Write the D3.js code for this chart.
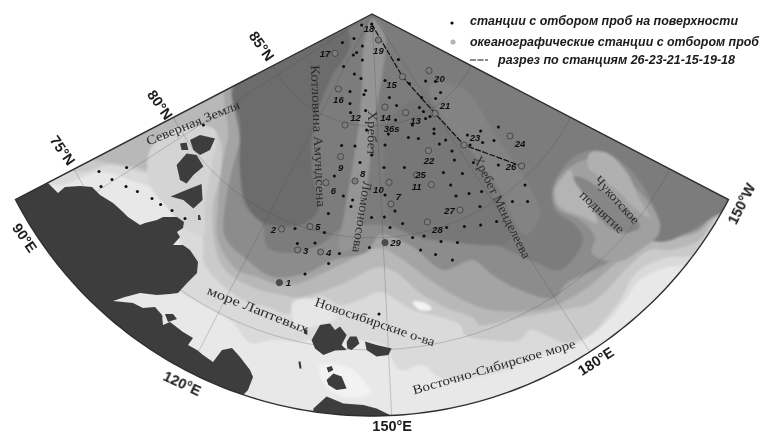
<!DOCTYPE html>
<html>
<head>
<meta charset="utf-8">
<script src="https://cdn.jsdelivr.net/npm/d3@7"></script>
<style>
  html, body { margin: 0; background: #fff; }
  svg { display: block; }
</style>
</head>
<body>
<svg id="map" width="761" height="434"></svg>
<script>
// all map coordinates are km on the polar plane, origin at the pole, y towards the shelf

// stations with surface samples
var surfaceX = [-52,-2,-148,-90,-48,-77,-93,-48,-142,132,-88,-55,65,187,268,318,343,318,248,-110,-32,-40,-110,87,123,237,257,290,268,202,-107,-32,118,-27,82,182,232,310,310,368,337,632,543,477,490,553,610,-152,-85,65,
  -2,400,412,-60,60,162,507,632,357,452,-188,393,485,548,765,-143,65,-97,-105,115,420,540,702,778,-218,-2,62,623,153,90,373,462,543,-385,-238,203,260,345,427,-373,-285,-13,243,318,402,-163,-217,-335,
  -1365,-1227,-1300,-1355,-1230,-1173,-1100,-1057,-1000,-935,-843,35];
var surfaceY = [55,50,143,122,160,192,205,230,263,227,300,323,333,347,335,338,392,422,418,387,383,402,447,417,457,467,488,513,522,555,492,483,530,580,600,617,623,575,597,630,650,565,585,605,655,643,633,657,660,655,
  705,685,730,743,767,768,743,755,792,797,810,855,897,888,855,910,905,930,963,985,910,963,938,938,998,1017,1015,1038,1047,1068,1067,1063,1055,1072,1093,1118,1110,1138,1143,1148,1145,1167,1180,1202,1230,1198,1247,1300,
  788,767,827,863,862,887,923,952,983,1023,555,1500];

// oceanographic stations
var oceanNames = ["19","17","16","14","13","15","20","21","12","23","24","22","9","6","8","10","7","11","25","27","28","26","2","5","3","4","29","1"];
var oceanX = [32,-185,-168,65,168,152,285,315,-135,460,690,282,-157,-230,-85,85,95,297,223,440,277,748,-452,-310,-372,-257,65,-463];
var oceanY = [130,197,375,465,493,313,283,497,555,655,610,683,713,843,835,842,950,853,805,980,1040,760,1075,1063,1180,1190,1143,1343];

// station numbers
var labelNames = ["18","19","17","15","16","20","21","12","14","13","36s","23","24","9","8","6","10","7","25","11","22","27","28","26","2","5","3","4","29","1"];
var labelX = [-15,32,-235,98,-168,337,365,-82,68,218,98,515,740,-157,-47,-193,32,132,243,223,285,387,327,695,-493,-270,-332,-217,118,-418];
var labelY = [75,183,200,352,427,322,458,517,517,533,572,617,647,767,797,883,880,913,803,862,733,983,1077,763,1077,1063,1183,1193,1145,1343];

// section 26-23-21-15-19-18
var sectionX = [-2,152,315,460,748];
var sectionY = [50,313,497,655,760];

// place names
var placeNames = ["Северная Земля","Котловина Амундсена","Хребет","Ломоносова","Хребет Менделеева","море Лаптевых","Новосибирские о-ва","Восточно-Сибирское море","Чукотское","поднятие"];
var placeX = [-895,-270,0,-50,650,-570,15,610,1225,1150];
var placeY = [545,610,595,1015,965,1480,1540,1765,930,990];
var placeAngle = [-22,87.5,91,99,63.7,21.8,19,-16.2,47.7,43];
var placeLength = [100,142,45,72,113,108,126,169,60,56];

// graticule tick labels
var meridianTicks = [90,120,150,180,210];
var meridianNames = ["90°E","120°E","150°E","180°E","150°W"];
var meridianAngle = [55,25,0,-33,-63];
var meridianLat = [71.55,71.45,71.57,71.55,71.45];
var parallelTicks = [84.87,79.7,74.9];
var parallelNames = ["85°N","80°N","75°N"];
var parallelLon = [73.4,80.4,81];

// depth bands, shallow to deep, each one closes over the top of the map
var band0 = [[-1585,855],[-1360,790],[-1185,840],[-1035,905],[-960,1130],[-960,1380],[-860,1445],[-695,1545],[-610,1645],[-495,1630],[-360,1640],[-260,1620],[-135,1630],[55,1655],[140,1780],[255,1755],[340,1820],[640,1790],[840,1705],[1015,1655],[1175,1540],[1265,1430],[1340,1330],[1465,1270],[1605,1240],[1690,1130],[1800,980],[1940,880],[1940,-170],[-1860,-170],[-1860,680]];
var band1 = [[-1460,790],[-1310,755],[-1160,790],[-1010,830],[-910,970],[-845,1130],[-840,1240],[-775,1330],[-645,1430],[-510,1470],[-425,1500],[-350,1450],[-260,1410],[-160,1455],[-60,1430],[40,1390],[205,1480],[340,1515],[440,1555],[465,1605],[590,1630],[740,1630],[790,1580],[890,1615],[975,1645],[1090,1605],[1175,1515],[1240,1430],[1325,1290],[1465,1220],[1605,1205],[1665,1120],[1765,995],[1940,880],[1940,-170],[-1860,-170],[-1860,680]];
var band2 = [[-1410,730],[-1235,755],[-1035,780],[-970,680],[-775,605],[-750,755],[-795,955],[-790,1130],[-760,1240],[-695,1315],[-560,1380],[-445,1405],[-360,1415],[-160,1355],[40,1265],[125,1295],[240,1395],[375,1470],[505,1520],[540,1555],[725,1520],[940,1480],[1075,1455],[1175,1380],[1275,1270],[1390,1180],[1500,1180],[1640,1130],[1720,1020],[1940,880],[1940,-170],[-1860,-170],[-1860,680]];
var band3 = [[-735,370],[-735,455],[-720,605],[-750,755],[-770,955],[-770,1130],[-675,1280],[-575,1315],[-460,1355],[-360,1345],[-160,1255],[40,1170],[140,1220],[290,1330],[455,1430],[590,1480],[840,1480],[925,1455],[1075,1370],[1240,1230],[1340,1165],[1440,1130],[1625,1095],[1705,1020],[1940,880],[1940,-170],[-360,-170]];
var band4 = [[-700,355],[-660,605],[-700,780],[-735,955],[-735,1115],[-625,1230],[-495,1315],[-325,1295],[-195,1230],[-25,1190],[40,1105],[205,1165],[355,1280],[505,1230],[590,1295],[705,1365],[905,1420],[975,1345],[1075,1295],[1190,1240],[1340,1130],[1450,1120],[1625,1080],[1705,1010],[1940,880],[1940,-170],[-340,-170]];
var band5 = [[-685,330],[-660,630],[-660,780],[-635,955],[-545,1055],[-525,1165],[-410,1195],[-260,1155],[-160,1080],[55,1055],[290,1130],[540,1130],[790,1230],[940,1280],[1055,1130],[1015,1055],[915,980],[905,865],[990,730],[1105,680],[1255,745],[1375,895],[1425,1030],[1375,1115],[1450,1140],[1575,1095],[1705,1015],[1940,880],[1940,-170],[-340,-170]];
var amundsen = [[-700,390],[-660,530],[-660,780],[-625,955],[-550,1040],[-360,1055],[-270,980],[-300,780],[-295,580],[-210,330],[-110,155],[-160,30],[-560,230]];
var makarov = [[90,530],[240,430],[490,680],[615,930],[690,1130],[340,1130],[115,1055],[65,780]];
var lomonosov = [[0,20],[65,105],[55,280],[30,430],[0,630],[-20,830],[-60,1055],[-110,1180],[-160,1180],[-135,980],[-100,780],[-70,580],[-50,380],[-45,180]];
var mendeleev = [[290,355],[465,380],[615,605],[740,780],[840,1005],[765,1105],[640,880],[490,680],[340,505]];
var chukchi = [[990,765],[905,880],[925,970],[1040,1030],[1115,1115],[1100,1195],[1225,1240],[1375,1155],[1430,1105],[1440,1045],[1375,930],[1275,830],[1175,715]];
var chukchiTrench = [[1005,820],[1040,815],[1275,980],[1340,1065],[1240,1095],[1090,965]];
var chukchiUpper = [[1090,695],[1175,695],[1275,795],[1340,930],[1390,1015],[1325,980],[1240,895],[1140,815],[1080,765]];
var chukchiLower = [[955,815],[990,780],[1015,840],[1090,945],[1125,1045],[1055,1015],[940,965],[915,880]];
var severnayaShelf = [[-1110,680],[-970,570],[-785,580],[-800,755],[-835,930],[-845,1105],[-910,1090],[-1035,955],[-1110,855]];
var siberianShoal = [[-395,1440],[-275,1430],[-175,1515],[-260,1555],[-375,1570]];
var shoalSpot = [[205,1440],[265,1445],[300,1475],[240,1480]];
var lyakhovShoal = [[-260,1755],[-110,1770],[-25,1855],[0,1895],[-135,1915],[-235,1855]];

var depthShapes = [band0,band1,band2,band3,band4,band5,amundsen,makarov,lomonosov,mendeleev,chukchi,chukchiTrench,chukchiUpper,chukchiLower,severnayaShelf,siberianShoal,shoalSpot,lyakhovShoal];
var depthGreys = ["#dadada","#cacaca","#b8b8b8","#a4a4a4","#8c8c8c","#7c7c7c","#6c6c6c","#777777","#959595","#838383","#a0a0a0","#868686","#b0b0b0","#b4b4b4","#d4d4d4","#e6e6e6","#f4f4f4","#f2f2f2"];

// land
var taymyr = [[-1785,930],[-1620,845],[-1570,895],[-1535,865],[-1460,860],[-1400,865],[-1360,905],[-1295,945],[-1245,990],[-1220,1015],[-1160,1055],[-1135,1045],[-1075,1030],[-1045,1015],[-975,1015],[-940,1040],[-945,1070],[-975,1090],[-960,1115],[-995,1155],[-945,1155],[-910,1180],[-870,1240],[-875,1295],[-920,1340],[-970,1395],[-1010,1400],[-1075,1405],[-1160,1395],[-1235,1415],[-1295,1435],[-1195,1445],[-1145,1470],[-1085,1465],[-1050,1505],[-1045,1555],[-1010,1540],[-945,1590],[-895,1620],[-920,1655],[-875,1680],[-845,1705],[-795,1740],[-750,1680],[-700,1670],[-660,1715],[-610,1780],[-595,1815],[-620,1880],[-645,1905],[-660,2055],[-1610,2055],[-1860,930]];
var island1 = [[-910,630],[-860,605],[-785,622],[-810,680],[-860,705],[-893,680]];
var island2 = [[-960,647],[-927,643],[-918,680],[-952,680]];
var island3 = [[-977,755],[-927,697],[-877,705],[-843,763],[-893,805],[-927,847],[-960,830]];
var island4 = [[-1007,913],[-910,872],[-852,850],[-847,930],[-893,972],[-943,930]];
var island5 = [[-870,1005],[-860,1005],[-855,1030],[-870,1030]];
var island6 = [[-1090,1505],[-1045,1510],[-1075,1535]];
var island7 = [[-1035,1500],[-995,1500],[-975,1525],[-1020,1540]];
var kotelny = [[-302,1630],[-260,1555],[-210,1547],[-185,1580],[-160,1563],[-127,1605],[-152,1655],[-127,1680],[-185,1683],[-243,1705],[-285,1672]];
var faddeevsky = [[-110,1612],[-77,1613],[-63,1647],[-102,1680],[-123,1672],[-127,1640]];
var newSiberia = [[-35,1638],[23,1655],[98,1672],[82,1705],[23,1713],[-27,1680]];
var islet1 = [[-335,1572],[-323,1580],[-323,1605],[-340,1597]];
var islet2 = [[-368,1738],[-357,1738],[-352,1772],[-363,1772]];
var lyakhovsky = [[-227,1830],[-193,1797],[-152,1813],[-127,1872],[-177,1880],[-218,1855]];
var malyLyakhovsky = [[-227,1767],[-202,1760],[-193,1780],[-218,1793]];
var chukotkaCoast = [[-293,1972],[-227,1913],[-143,1947],[-43,1955],[23,1972],[90,2005],[90,2100],[-293,2100]];
var lands = [taymyr,island1,island2,island3,island4,island5,island6,island7,kotelny,faddeevsky,newSiberia,islet1,islet2,lyakhovsky,malyLyakhovsky,chukotkaCoast];

renderMap();

function renderMap(){
  var svg = d3.select('#map');

  // 5 km to the pixel, pole at 372,14
  var x = d3.scaleLinear().domain([-1860,1945]).range([0,761]);
  var y = d3.scaleLinear().domain([-70,2100]).range([0,434]);

  var projection = d3.geoAzimuthalEquidistant()
    .rotate([-147.2,-90])
    .scale(1283)
    .translate([x(0),y(0)])
    .precision(0.3);
  var geoPath = d3.geoPath(projection);

  var rim = d3.range(84.7,209.8,1).map(lon => [lon,72.05]);
  var framePoints = [[0,90]].concat(rim).map(projection);
  var frameLine = d3.line().curve(d3.curveLinearClosed);

  var defs = svg.append('defs');
  defs.append('clipPath').attr('id','wedge').append('path').attr('d',frameLine(framePoints));
  defs.append('filter').attr('id','wide').append('feGaussianBlur').attr('stdDeviation',1.3);
  defs.append('filter').attr('id','soft').append('feGaussianBlur').attr('stdDeviation',0.6);
  defs.append('filter').attr('id','softer').append('feGaussianBlur').attr('stdDeviation',0.35);

  var smooth = d3.line().x(d => x(d[0])).y(d => y(d[1])).curve(d3.curveCatmullRomClosed.alpha(0.5));
  var rough = d3.line().x(d => x(d[0])).y(d => y(d[1])).curve(d3.curveLinearClosed);

  var clipped = svg.append('g').attr('clip-path','url(#wedge)');
  var sea = clipped.append('g').attr('filter','url(#wide)');
  sea.append('rect').attr('width',761).attr('height',434).attr('fill','#e8e8e8');

  sea.selectAll('path.depth')
    .data(depthShapes)
    .enter()
    .append('path')
    .attr('class','depth')
    .attr('d',smooth)
    .attr('fill',(d,i) => depthGreys[i]);

  clipped.append('g').attr('filter','url(#soft)').selectAll('path.land')
    .data(lands)
    .enter()
    .append('path')
    .attr('class','land')
    .attr('d',rough)
    .attr('fill','#3d3d3d');

  var graticule = d3.geoGraticule().extent([[60,60],[240,90]]).step([30,5]);
  clipped.append('path')
    .attr('d',geoPath(graticule()))
    .attr('fill','none')
    .attr('stroke','#4a4a4a')
    .attr('stroke-opacity',0.42)
    .attr('stroke-width',0.6);

  svg.append('path')
    .attr('d',frameLine(framePoints))
    .attr('fill','none')
    .attr('stroke','#2e2e2e')
    .attr('stroke-width',1.4)
    .attr('stroke-linejoin','miter');

  var top = svg.append('g').attr('filter','url(#softer)');

  top.append('g').selectAll('text')
    .data(placeNames)
    .enter()
    .append('text')
    .attr('transform',(d,i) => 'translate(' + x(placeX[i]) + ',' + y(placeY[i]) + ') rotate(' + placeAngle[i] + ')')
    .attr('text-anchor','middle')
    .attr('dy','0.32em')
    .attr('font-family','"Liberation Serif"')
    .attr('font-size',13)
    .attr('fill','#2c2c2c')
    .attr('textLength',(d,i) => placeLength[i])
    .attr('lengthAdjust','spacingAndGlyphs')
    .text(d => d);

  top.append('path')
    .attr('d',d3.line().x(d => x(d[0])).y(d => y(d[1]))(sectionX.map((v,i) => [v,sectionY[i]])))
    .attr('fill','none')
    .attr('stroke','#111')
    .attr('stroke-width',1.2)
    .attr('stroke-dasharray','6,1.5');

  top.append('g').selectAll('circle')
    .data(oceanNames)
    .enter()
    .append('circle')
    .attr('cx',(d,i) => x(oceanX[i]))
    .attr('cy',(d,i) => y(oceanY[i]))
    .attr('r',3.1)
    .attr('fill',d => (d == '1' || d == '29') ? '#4c4c4c' : '#7d7d7d')
    .attr('stroke','#484848')
    .attr('stroke-width',1);

  top.append('g').selectAll('circle')
    .data(surfaceX)
    .enter()
    .append('circle')
    .attr('cx',d => x(d))
    .attr('cy',(d,i) => y(surfaceY[i]))
    .attr('r',1.5)
    .attr('fill','#0d0d0d');

  top.append('g').selectAll('text')
    .data(labelNames)
    .enter()
    .append('text')
    .attr('x',(d,i) => x(labelX[i]))
    .attr('y',(d,i) => y(labelY[i]))
    .attr('dy','0.35em')
    .attr('text-anchor','middle')
    .attr('font-family','"Liberation Sans"')
    .attr('font-size',9.5)
    .attr('font-weight','bold')
    .attr('font-style','italic')
    .attr('fill','#111')
    .text(d => d);

  // graticule labels sit just outside the frame
  top.append('g').selectAll('text')
    .data(meridianNames)
    .enter()
    .append('text')
    .attr('transform',(d,i) => {
      var p = projection([meridianTicks[i],meridianLat[i]]);
      return 'translate(' + p[0] + ',' + p[1] + ') rotate(' + meridianAngle[i] + ')';
    })
    .attr('text-anchor','middle')
    .attr('dy','0.35em')
    .attr('font-family','"Liberation Sans"')
    .attr('font-size',14.5)
    .attr('font-weight','bold')
    .attr('fill','#1c1c1c')
    .text(d => d);

  top.append('g').selectAll('text')
    .data(parallelNames)
    .enter()
    .append('text')
    .attr('transform',(d,i) => {
      var p = projection([parallelLon[i],parallelTicks[i]]);
      return 'translate(' + p[0] + ',' + p[1] + ') rotate(55)';
    })
    .attr('text-anchor','middle')
    .attr('dy','0.35em')
    .attr('font-family','"Liberation Sans"')
    .attr('font-size',14.5)
    .attr('font-weight','bold')
    .attr('fill','#1c1c1c')
    .text(d => d);

  // legend
  var legend = top.append('g')
    .attr('font-family','"Liberation Sans"')
    .attr('font-size',12)
    .attr('font-weight','bold')
    .attr('font-style','italic')
    .attr('fill','#1a1a1a');
  legend.append('circle').attr('cx',452).attr('cy',23).attr('r',1.6).attr('fill','#0d0d0d');
  legend.append('circle').attr('cx',453).attr('cy',42).attr('r',2.6).attr('fill','#b4b4b4');
  legend.append('line').attr('x1',470).attr('x2',488).attr('y1',60).attr('y2',60)
    .attr('stroke','#111').attr('stroke-width',1).attr('stroke-dasharray','6,1.5');
  legend.append('text').attr('x',470).attr('y',25).attr('textLength',268).attr('lengthAdjust','spacingAndGlyphs').text('станции с отбором проб на поверхности');
  legend.append('text').attr('x',470).attr('y',46).attr('textLength',289).attr('lengthAdjust','spacingAndGlyphs').text('океанографические станции с отбором проб');
  legend.append('text').attr('x',498).attr('y',64).attr('textLength',237).attr('lengthAdjust','spacingAndGlyphs').text('разрез по станциям 26-23-21-15-19-18');
}
</script>
</body>
</html>
